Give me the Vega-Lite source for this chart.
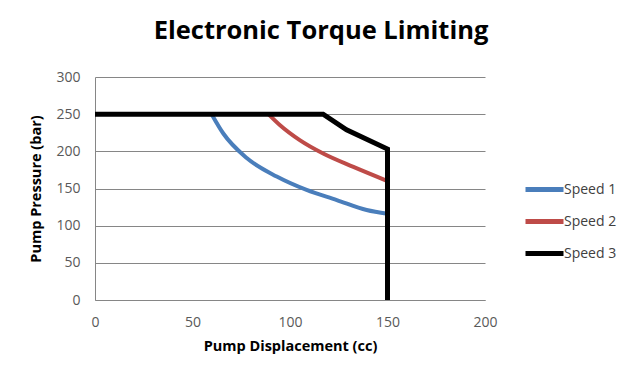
{
  "$schema": "https://vega.github.io/schema/vega-lite/v6.json",
  "autosize": {"type": "none"},
  "width": 390,
  "height": 223,
  "padding": {"left": 95, "top": 77, "right": 155, "bottom": 86},
  "background": "white",
  "title": {
    "text": "Electronic Torque Limiting",
    "font": "Open Sans",
    "fontSize": 25.5,
    "fontWeight": "bold",
    "color": "#000000",
    "offset": 26,
    "dx": 31
  },
  "datasets": {
    "curves": [
      {"series": "Speed 1", "x": 59.8, "y": 250},
      {"series": "Speed 1", "x": 65.8, "y": 224},
      {"series": "Speed 1", "x": 77.8, "y": 191},
      {"series": "Speed 1", "x": 93.2, "y": 166},
      {"series": "Speed 1", "x": 108.5, "y": 148},
      {"series": "Speed 1", "x": 124, "y": 134.5},
      {"series": "Speed 1", "x": 139.3, "y": 121},
      {"series": "Speed 1", "x": 150, "y": 116},
      {"series": "Speed 2", "x": 88.9, "y": 250},
      {"series": "Speed 2", "x": 94.9, "y": 235},
      {"series": "Speed 2", "x": 105, "y": 215},
      {"series": "Speed 2", "x": 117, "y": 197},
      {"series": "Speed 2", "x": 132.5, "y": 179},
      {"series": "Speed 2", "x": 150, "y": 160}
    ],
    "limit": [
      {"series": "Speed 3", "i": 1, "x": 0, "y": 250},
      {"series": "Speed 3", "i": 2, "x": 117, "y": 250},
      {"series": "Speed 3", "i": 3, "x": 129, "y": 229},
      {"series": "Speed 3", "i": 4, "x": 150, "y": 203},
      {"series": "Speed 3", "i": 5, "x": 150, "y": 0}
    ]
  },
  "encoding": {
    "x": {"field": "x", "type": "quantitative", "scale": {"domain": [0, 200], "nice": false}, "axis": {"title": "Pump Displacement (cc)", "values": [0, 50, 100, 150, 200]}},
    "y": {"field": "y", "type": "quantitative", "scale": {"domain": [0, 300], "nice": false}, "axis": {"title": "Pump Pressure (bar)", "values": [0, 50, 100, 150, 200, 250, 300], "tickCount": 7}},
    "color": {"field": "series", "type": "nominal", "scale": {"domain": ["Speed 1", "Speed 2", "Speed 3"], "range": ["#4A7EBB", "#BE4B48", "#000000"]}}
  },
  "layer": [
    {
      "data": {"name": "curves"},
      "mark": {"type": "line", "strokeWidth": 4, "interpolate": "monotone", "strokeCap": "round"}
    },
    {
      "data": {"name": "limit"},
      "mark": {"type": "line", "strokeWidth": 5},
      "encoding": {
        "order": {"field": "i", "type": "quantitative"}
      }
    }
  ],
  "config": {
    "view": {"stroke": null},
    "font": "Open Sans",
    "axis": {
      "grid": true,
      "gridColor": "#868686",
      "gridWidth": 1,
      "domainColor": "#868686",
      "domainWidth": 1,
      "ticks": false,
      "labelOverlap": false,
      "labelFlush": false,
      "labelFont": "Open Sans",
      "labelFontSize": 14,
      "labelColor": "#595959",
      "titleFont": "Open Sans",
      "titleFontSize": 14.5,
      "titleFontWeight": "bold",
      "titleColor": "#000000"
    },
    "axisX": {"labelPadding": 15, "titlePadding": 10, "grid": false},
    "axisY": {"labelPadding": 15, "titlePadding": 12},
    "legend": {
      "orient": "none",
      "legendX": 428,
      "legendY": 91,
      "title": null,
      "symbolType": "stroke",
      "symbolSize": 1444,
      "symbolStrokeWidth": 5,
      "labelFont": "Open Sans",
      "labelFontSize": 14,
      "labelColor": "#404040",
      "labelOffset": -2,
      "rowPadding": -6
    }
  }
}
